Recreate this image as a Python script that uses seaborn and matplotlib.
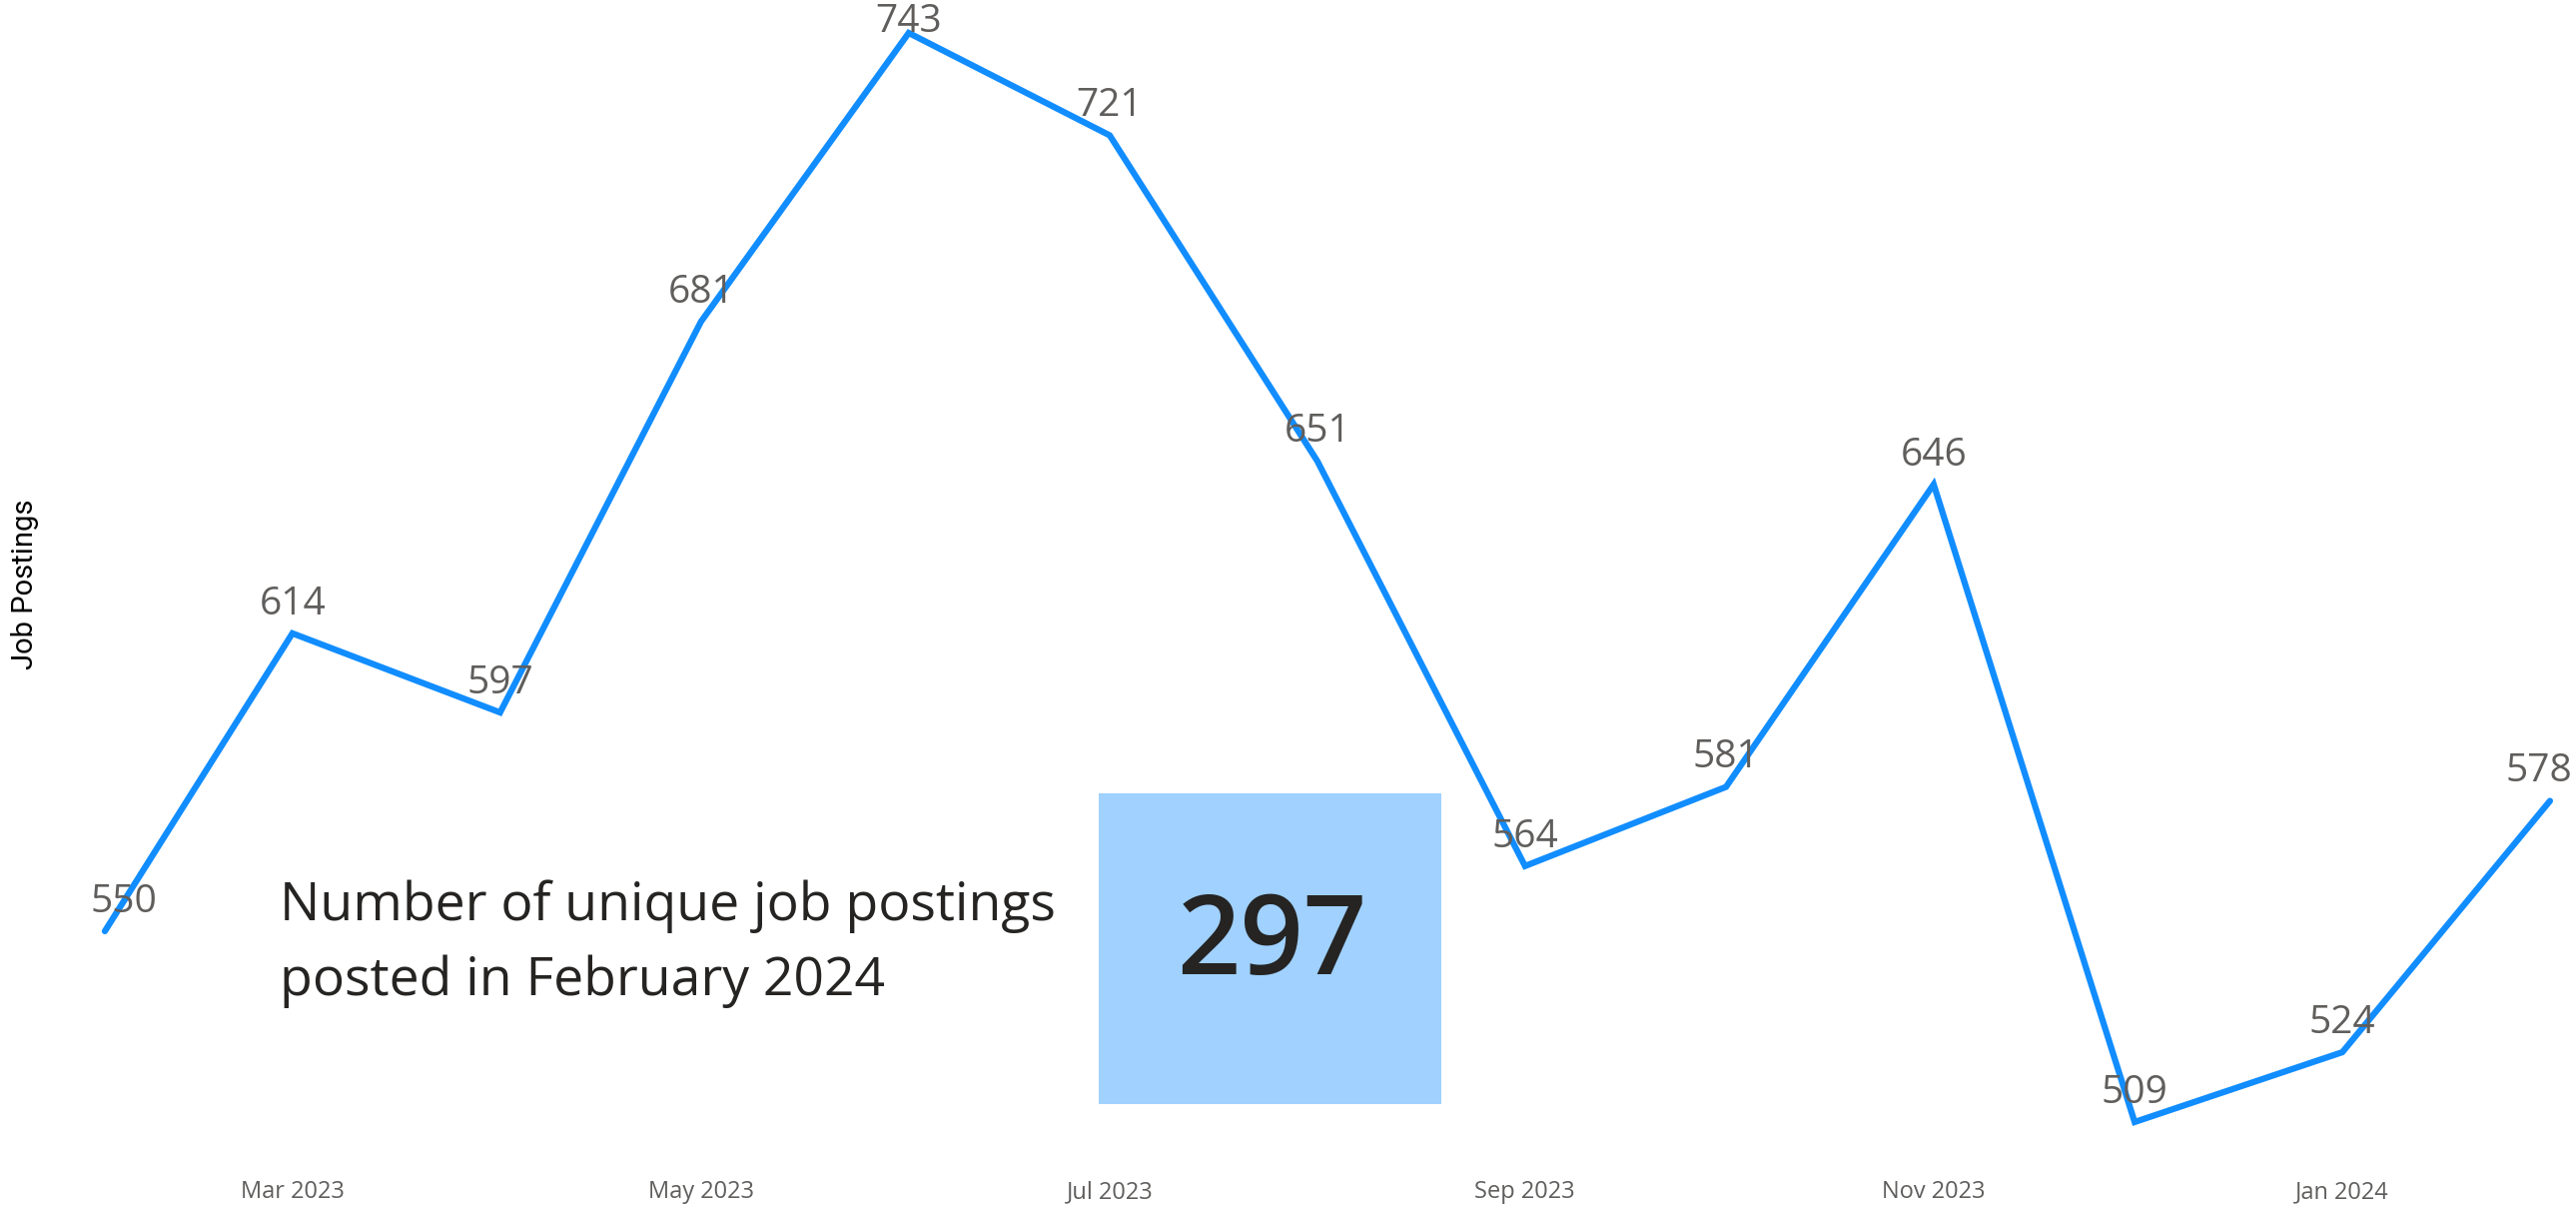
import pandas as pd
import matplotlib.pyplot as plt
import seaborn as sns
from matplotlib.patches import Rectangle

# data
months = pd.date_range('2023-02-01', '2024-02-01', freq='MS')
postings = [550, 614, 597, 681, 743, 721, 651, 564, 581, 646, 509, 524, 578]
tick_months = ['2023-03-01', '2023-05-01', '2023-07-01', '2023-09-01', '2023-11-01', '2024-01-01']
tick_labels = ['Mar 2023', 'May 2023', 'Jul 2023', 'Sep 2023', 'Nov 2023', 'Jan 2024']
card_text = 'Number of unique job postings\nposted in February 2024'
card_value = 297

df = pd.DataFrame({'Month': months, 'Job Postings': postings})

sns.set_theme(style='white')
plt.rcParams['font.family'] = ['Open Sans', 'DejaVu Sans']

fig = plt.figure(figsize=(25.79, 12.08), dpi=100)
ax = fig.add_axes([0.0407, 0.0704, 0.9492, 0.9023])

sns.lineplot(data=df, x='Month', y='Job Postings', color='#118DFF',
             linewidth=4.5, ax=ax, clip_on=False)
ax.lines[0].set_solid_capstyle('round')
ax.lines[0].set_solid_joinstyle('miter')

ax.set_xlim(df['Month'].min(), df['Month'].max())
ax.set_ylim(min(postings), max(postings))

# data labels
top = max(postings)
for i, (d, v) in enumerate(zip(df['Month'], df['Job Postings'])):
    dx, dy = 0, 21
    if i == 0:
        dx = 14
    elif i == len(postings) - 1:
        dx = -8
    if v == top:
        dy = 8
    ax.annotate(str(v), (d, v), xytext=(dx, dy), textcoords='offset points',
                ha='center', va='center', fontsize=28, color='#605E5C',
                annotation_clip=False)

ax.set_xticks(pd.to_datetime(tick_months))
ax.set_xticklabels(tick_labels, fontsize=17, color='#605E5C')
ax.tick_params(axis='x', length=0, pad=42)
ax.set_yticks([])
ax.set_xlabel('')
ax.set_ylabel('')
sns.despine(ax=ax, left=True, bottom=True)

fig.text(0.0097, 0.516, 'Job Postings', rotation=90, ha='center', va='center',
         fontsize=21, color='#000000', family=['Roboto', 'DejaVu Sans'])

# card
fig.patches.append(Rectangle((0.4265, 0.0853), 0.1330, 0.2575,
                             transform=fig.transFigure, facecolor='#A0D1FF',
                             edgecolor='none', zorder=0))
fig.text(0.4936, 0.2164, str(card_value), ha='center', va='center',
         fontsize=80, fontweight='semibold', color='#252423')
fig.text(0.1086, 0.218, card_text, ha='left', va='center', fontsize=38.5,
         color='#252423', linespacing=1.55)

fig.savefig('out.png', dpi=100)
plt.close()
